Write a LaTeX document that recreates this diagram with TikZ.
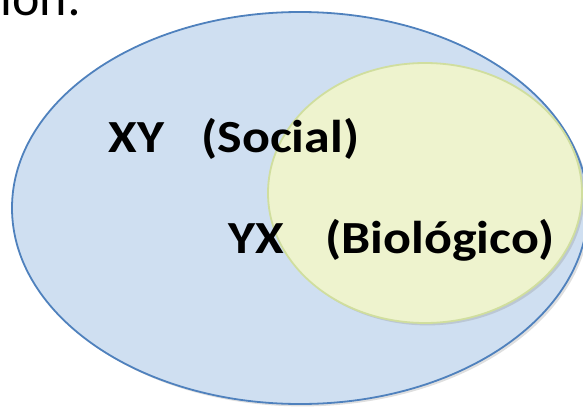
\documentclass[tikz,border=0pt]{standalone}
\usepackage{fontspec}
\setmainfont{Carlito}
\newfontfamily\labelfont{Carlito}[FakeStretch=1.13]
\usetikzlibrary{shadows}
\definecolor{setfill}{RGB}{207,223,241}
\definecolor{setline}{RGB}{79,129,189}
\definecolor{subfill}{RGB}{238,243,206}
\definecolor{subline}{RGB}{208,222,158}
\tikzset{
  label/.style={anchor=base west, inner sep=0pt, font=\labelfont\fontsize{23pt}{27pt}\selectfont\bfseries},
  soft/.style={drop shadow={shadow xshift=1.2pt, shadow yshift=-1.2pt, opacity=0.25}}
}
\begin{document}
\begin{tikzpicture}[x=0.5pt,y=-0.5pt]
\useasboundingbox (0,0) rectangle (583,407) ;
\clip (0,0) rectangle (583,407) ;
\node[anchor=base west, inner sep=0pt, font=\fontsize{26pt}{30pt}\selectfont] (head) at (0,15) {ión:} ;
\draw[setline, fill=setfill, line width=0.9pt, soft] (300,208) ellipse[x radius=288, y radius=196] ;
\draw[subline, fill=subfill, line width=0.9pt, soft] (425,193) ellipse[x radius=157, y radius=130] ;
\node[label] (xy) at (108,152) {XY} ;
\node[label] (social) at (201,152) {(Social)} ;
\node[label] (yx) at (228,253) {YX} ;
\node[label] (bio) at (325,253) {(Biológico)} ;
\end{tikzpicture}
\end{document}
